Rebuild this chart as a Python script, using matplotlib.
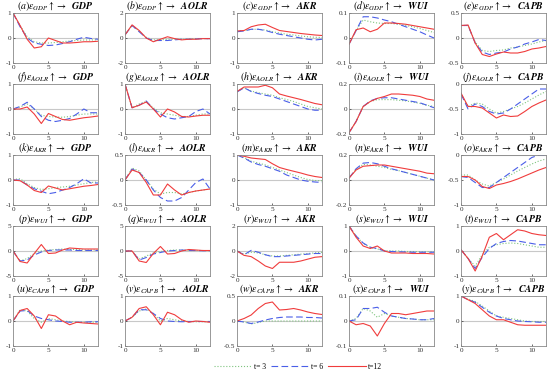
import numpy as np
import matplotlib
matplotlib.use("Agg")
import matplotlib.pyplot as plt

plt.rcParams['font.family'] = ['Liberation Serif', 'DejaVu Serif']
plt.rcParams['mathtext.fontset'] = 'stix'
plt.rcParams['axes.unicode_minus'] = False

horizon = np.arange(13)
variables = ['GDP', 'AOLR', 'AKR', 'WUI', 'CAPB']
letters = 'abcdefghijklmnopqrstuvwxy'
labels = ['t= 3', 't= 6', 't=12']

# y-limits of each response column, per shock row
ylims = [
    [1, 2, 1, 0.1, 0.5],
    [1, 1, 1, 0.2, None],
    [1, 0.5, 1, 0.2, None],
    [5, 5, 2, 1, 1],
    [1, 1, 0.5, 0.1, 1],
]

# each panel: rows are t=3, t=6, t=12
irf_a = [[1, 0.5, 0.05, -0.15, -0.2, -0.2, -0.18, -0.15, -0.12, -0.1, -0.08, -0.08, -0.07],
         [1, 0.45, 0.0, -0.2, -0.25, -0.3, -0.28, -0.22, -0.15, -0.05, 0.03, -0.02, -0.05],
         [1, 0.5, -0.05, -0.4, -0.35, 0.0, -0.1, -0.2, -0.2, -0.18, -0.15, -0.15, -0.13]]
irf_b = [[0.25, 1.0, 0.55, 0.05, -0.15, -0.15, -0.1, -0.1, -0.1, -0.08, -0.05, -0.05, -0.05],
         [0.25, 1.0, 0.5, 0.0, -0.2, -0.2, -0.2, -0.15, -0.1, -0.1, -0.08, -0.05, -0.05],
         [0.25, 1.05, 0.6, 0.0, -0.3, -0.1, 0.1, -0.05, -0.15, -0.1, -0.1, -0.05, -0.05]]
irf_c = [[0.28, 0.3, 0.35, 0.35, 0.32, 0.25, 0.2, 0.15, 0.12, 0.08, 0.05, 0.03, 0.02],
         [0.25, 0.28, 0.35, 0.35, 0.3, 0.22, 0.15, 0.1, 0.05, 0.0, -0.05, -0.08, -0.05],
         [0.28, 0.3, 0.45, 0.52, 0.55, 0.42, 0.3, 0.26, 0.22, 0.18, 0.15, 0.12, 0.1]]
irf_d = [[-0.025, 0.03, 0.072, 0.065, 0.06, 0.058, 0.058, 0.055, 0.05, 0.045, 0.038, 0.03, 0.022],
         [-0.025, 0.03, 0.085, 0.085, 0.08, 0.072, 0.065, 0.055, 0.045, 0.035, 0.025, 0.012, 0.0],
         [-0.025, 0.033, 0.04, 0.025, 0.035, 0.06, 0.06, 0.058, 0.055, 0.05, 0.045, 0.04, 0.035]]
irf_e = [[0.25, 0.25, -0.08, -0.25, -0.27, -0.25, -0.24, -0.2, -0.18, -0.15, -0.12, -0.08, -0.05],
         [0.25, 0.25, -0.1, -0.28, -0.33, -0.3, -0.28, -0.22, -0.18, -0.12, -0.08, -0.03, -0.05],
         [0.25, 0.26, -0.1, -0.33, -0.37, -0.32, -0.28, -0.3, -0.3, -0.27, -0.22, -0.2, -0.17]]
irf_f = [[0, 0.08, 0.2, 0.0, -0.25, -0.3, -0.32, -0.33, -0.3, -0.25, -0.2, -0.2, -0.2],
         [0, 0.1, 0.27, 0.0, -0.3, -0.45, -0.5, -0.45, -0.38, -0.2, 0.0, -0.15, -0.15],
         [0, 0.0, 0.08, -0.2, -0.58, -0.18, -0.3, -0.42, -0.45, -0.4, -0.35, -0.32, -0.28]]
irf_g = [[1.0, 0.05, 0.2, 0.3, 0.05, -0.15, -0.2, -0.25, -0.3, -0.3, -0.25, -0.2, -0.2],
         [1.0, 0.05, 0.15, 0.32, 0.0, -0.2, -0.35, -0.4, -0.35, -0.3, -0.1, 0.0, -0.2],
         [1.0, 0.05, 0.15, 0.28, 0.0, -0.32, 0.0, -0.12, -0.3, -0.32, -0.28, -0.25, -0.25]]
irf_h = [[0.7, 0.85, 0.72, 0.65, 0.6, 0.55, 0.45, 0.38, 0.3, 0.2, 0.1, 0.05, 0.0],
         [0.68, 0.85, 0.7, 0.62, 0.55, 0.5, 0.4, 0.3, 0.2, 0.1, 0.0, -0.05, -0.05],
         [0.7, 0.88, 0.88, 0.88, 0.95, 0.85, 0.6, 0.52, 0.45, 0.38, 0.3, 0.22, 0.17]]
irf_i = [[-0.19, -0.1, 0.02, 0.06, 0.075, 0.075, 0.075, 0.07, 0.065, 0.055, 0.045, 0.03, 0.02],
         [-0.19, -0.1, 0.02, 0.065, 0.085, 0.09, 0.09, 0.08, 0.07, 0.06, 0.05, 0.03, 0.01],
         [-0.19, -0.1, 0.02, 0.06, 0.085, 0.1, 0.12, 0.12, 0.115, 0.11, 0.1, 0.08, 0.07]]
irf_j = [[-0.2, -0.45, -0.38, -0.4, -0.5, -0.58, -0.55, -0.5, -0.45, -0.38, -0.3, -0.22, -0.15],
         [-0.2, -0.5, -0.4, -0.45, -0.55, -0.6, -0.58, -0.5, -0.4, -0.3, -0.2, -0.1, -0.1],
         [-0.18, -0.45, -0.45, -0.48, -0.58, -0.68, -0.62, -0.65, -0.64, -0.55, -0.45, -0.38, -0.32]]
irf_k = [[0.02, 0.05, -0.15, -0.3, -0.38, -0.35, -0.3, -0.28, -0.25, -0.2, -0.15, -0.1, -0.08],
         [0, 0, -0.2, -0.35, -0.45, -0.55, -0.5, -0.4, -0.3, -0.15, 0.05, -0.12, -0.12],
         [0, -0.03, -0.2, -0.42, -0.5, -0.24, -0.32, -0.4, -0.35, -0.3, -0.25, -0.22, -0.18]]
irf_l = [[0, 0.24, 0.18, 0.0, -0.18, -0.28, -0.25, -0.25, -0.28, -0.25, -0.22, -0.2, -0.18],
         [0, 0.22, 0.15, 0.0, -0.2, -0.35, -0.42, -0.42, -0.35, -0.2, -0.05, 0.02, -0.18],
         [0, 0.2, 0.15, -0.05, -0.3, -0.3, -0.08, -0.2, -0.3, -0.25, -0.22, -0.2, -0.18]]
irf_m = [[1.0, 0.9, 0.75, 0.68, 0.6, 0.5, 0.4, 0.3, 0.2, 0.1, 0.02, -0.02, -0.03],
         [1.0, 0.88, 0.72, 0.62, 0.55, 0.45, 0.35, 0.2, 0.1, 0.0, -0.05, -0.08, -0.1],
         [1.0, 0.95, 0.88, 0.85, 0.82, 0.65, 0.5, 0.42, 0.35, 0.28, 0.2, 0.14, 0.1]]
irf_n = [[0.015, 0.085, 0.125, 0.12, 0.11, 0.1, 0.085, 0.075, 0.06, 0.045, 0.03, 0.015, 0.0],
         [0.015, 0.09, 0.135, 0.14, 0.13, 0.11, 0.09, 0.075, 0.06, 0.045, 0.03, 0.015, 0.0],
         [0.015, 0.08, 0.11, 0.115, 0.12, 0.12, 0.11, 0.1, 0.09, 0.08, 0.07, 0.055, 0.05]]
irf_o = [[-0.4, -0.4, -0.5, -0.58, -0.62, -0.55, -0.48, -0.4, -0.32, -0.25, -0.18, -0.12, -0.08],
         [-0.43, -0.45, -0.55, -0.65, -0.65, -0.55, -0.45, -0.35, -0.25, -0.15, -0.05, 0.0, 0.0],
         [-0.43, -0.43, -0.5, -0.63, -0.67, -0.6, -0.57, -0.53, -0.48, -0.42, -0.36, -0.3, -0.25]]
irf_p = [[0, -2.0, -1.5, -0.5, 0, 0.2, 0.3, 0.4, 0.3, 0.3, 0.2, 0.2, 0.2],
         [0, -2.0, -1.8, -0.8, -0.2, 0.1, 0.2, 0.2, 0.2, 0.1, 0.1, 0.1, 0.1],
         [0, -2.1, -2.4, -0.5, 1.3, -0.5, -0.4, 0.2, 0.6, 0.5, 0.4, 0.4, 0.4]]
irf_q = [[0, 0, -1.6, -1.0, -0.4, -0.1, 0.1, 0.2, 0.2, 0.1, 0.1, 0.1, 0.05],
         [0, 0, -1.8, -1.3, -0.6, -0.3, 0.0, 0.1, 0.2, 0.1, 0.1, 0.05, 0.05],
         [0, 0, -2.0, -2.3, -0.5, 0.9, -0.6, -0.5, 0.0, 0.3, 0.2, 0.1, 0.1]]
irf_r = [[0, -0.25, -0.1, -0.15, -0.3, -0.4, -0.4, -0.35, -0.3, -0.25, -0.2, -0.15, -0.1],
         [0, -0.3, 0.05, -0.1, -0.3, -0.45, -0.45, -0.4, -0.35, -0.3, -0.25, -0.2, -0.2],
         [0, -0.35, -0.45, -0.8, -1.2, -1.4, -0.9, -0.9, -0.9, -0.8, -0.65, -0.5, -0.45]]
irf_s = [[1.0, 0.6, 0.3, 0.15, 0.08, 0.02, 0.0, 0.0, -0.02, -0.02, -0.03, -0.03, -0.03],
         [1.0, 0.6, 0.32, 0.15, 0.1, 0.0, -0.02, -0.03, -0.04, -0.05, -0.05, -0.05, -0.05],
         [1.0, 0.55, 0.2, 0.1, 0.2, 0.0, -0.08, -0.08, -0.08, -0.1, -0.1, -0.1, -0.12]]
irf_t = [[0.05, -0.3, -0.6, -0.15, 0.15, 0.25, 0.3, 0.32, 0.3, 0.25, 0.2, 0.15, 0.15],
         [0.05, -0.3, -0.7, -0.25, 0.1, 0.3, 0.38, 0.42, 0.4, 0.35, 0.3, 0.25, 0.25],
         [0.05, -0.3, -0.8, -0.2, 0.55, 0.7, 0.45, 0.65, 0.85, 0.8, 0.7, 0.65, 0.62]]
irf_u = [[0, 0.45, 0.4, 0.1, -0.05, 0.1, 0.05, 0.0, -0.02, -0.05, -0.05, -0.05, -0.05],
         [0, 0.4, 0.42, 0.2, 0.1, 0.05, 0.0, -0.02, -0.05, -0.05, -0.05, -0.03, -0.03],
         [0, 0.42, 0.5, 0.2, -0.3, 0.25, 0.2, 0.0, -0.15, -0.05, -0.08, -0.1, -0.12]]
irf_v = [[0, 0.15, 0.4, 0.48, 0.3, 0.0, 0.1, 0.05, 0.0, -0.02, -0.03, -0.03, -0.03],
         [0, 0.15, 0.45, 0.45, 0.3, 0.1, 0.0, -0.02, -0.03, -0.02, -0.02, -0.02, -0.02],
         [0, 0.15, 0.5, 0.57, 0.25, -0.15, 0.35, 0.25, 0.05, -0.05, 0.0, -0.02, -0.05]]
irf_w = [[0, -0.02, -0.06, -0.03, 0.0, 0.0, 0.0, 0.0, 0.0, 0.0, 0.0, 0.0, 0.0],
         [0, -0.02, -0.05, -0.02, 0.02, 0.05, 0.07, 0.08, 0.08, 0.08, 0.07, 0.07, 0.06],
         [0, 0.05, 0.12, 0.25, 0.35, 0.38, 0.22, 0.23, 0.25, 0.22, 0.18, 0.15, 0.13]]
irf_x = [[0, 0.01, 0.05, 0.04, 0.015, 0.03, 0.02, 0.015, 0.01, 0.008, 0.005, 0.005, 0.005],
         [0, 0.005, 0.05, 0.05, 0.055, 0.035, 0.02, 0.015, 0.01, 0.008, 0.005, 0.005, 0.01],
         [0, -0.015, -0.01, -0.02, -0.06, -0.01, 0.03, 0.03, 0.025, 0.03, 0.035, 0.04, 0.04]]
irf_y = [[1.0, 0.88, 0.78, 0.6, 0.4, 0.2, 0.15, 0.1, 0.05, 0.0, -0.02, -0.02, -0.02],
         [1.0, 0.85, 0.75, 0.55, 0.35, 0.2, 0.1, 0.05, 0.0, -0.02, -0.03, -0.05, -0.05],
         [1.0, 0.85, 0.7, 0.45, 0.2, 0.05, 0.05, -0.05, -0.15, -0.17, -0.17, -0.17, -0.17]]

panels = [irf_a, irf_b, irf_c, irf_d, irf_e, irf_f, irf_g, irf_h, irf_i, irf_j,
          irf_k, irf_l, irf_m, irf_n, irf_o, irf_p, irf_q, irf_r, irf_s, irf_t,
          irf_u, irf_v, irf_w, irf_x, irf_y]

styles = [dict(color='#7fc47f', ls=':', lw=0.8),
          dict(color='#4a5ee8', ls=(0, (6, 3)), lw=0.8),
          dict(color='#f03c3c', ls='-', lw=0.8)]

W, H = 550, 373
fig = plt.figure(figsize=(W / 100, H / 100), dpi=100)

lefts = [13, 125, 237, 349, 461]
tops = [13, 84, 155, 226, 296]
aw, ah = 85, 50


def fmt(v):
    return ('%g' % v)


lines = []
for r in range(5):
    for c in range(5):
        k = r * 5 + c
        ax = fig.add_axes([lefts[c] / W, 1 - (tops[r] + ah) / H, aw / W, ah / H])
        ax.axhline(0, color='#c8c8c8', lw=0.8, zorder=1)
        for s in range(3):
            ln, = ax.plot(horizon, panels[k][s], zorder=2, **styles[s])
            if k == 0:
                lines.append(ln)
        ax.set_xlim(0, 12)
        m = ylims[r][c]
        if m is None:
            ax.set_ylim(-1, 0)
            yt = [-1, -0.5, 0]
        else:
            ax.set_ylim(-m, m)
            yt = [-m, 0, m]
        ax.set_yticks(yt)
        ax.set_yticklabels([fmt(v) for v in yt])
        ax.set_xticks([0, 5, 10])
        ax.tick_params(labelsize=5.2, length=1.5, width=0.5, pad=1.2, direction='in',
                       colors='#333333')
        for sp in ax.spines.values():
            sp.set_color('#888888')
            sp.set_linewidth(0.6)
        title = (r'$(%s)\varepsilon_{%s}\uparrow\rightarrow\ \ \mathbfit{%s}$'
                 % (letters[k], variables[r], variables[c]))
        ax.set_title(title, fontsize=7, pad=1.5)

fig.legend(lines, labels, loc='center', bbox_to_anchor=(298 / W, 1 - 367 / H),
           ncol=3, frameon=False, fontsize=5.5, handlelength=5, columnspacing=0.6,
           handletextpad=0.3)

fig.savefig('out.png', dpi=100)
